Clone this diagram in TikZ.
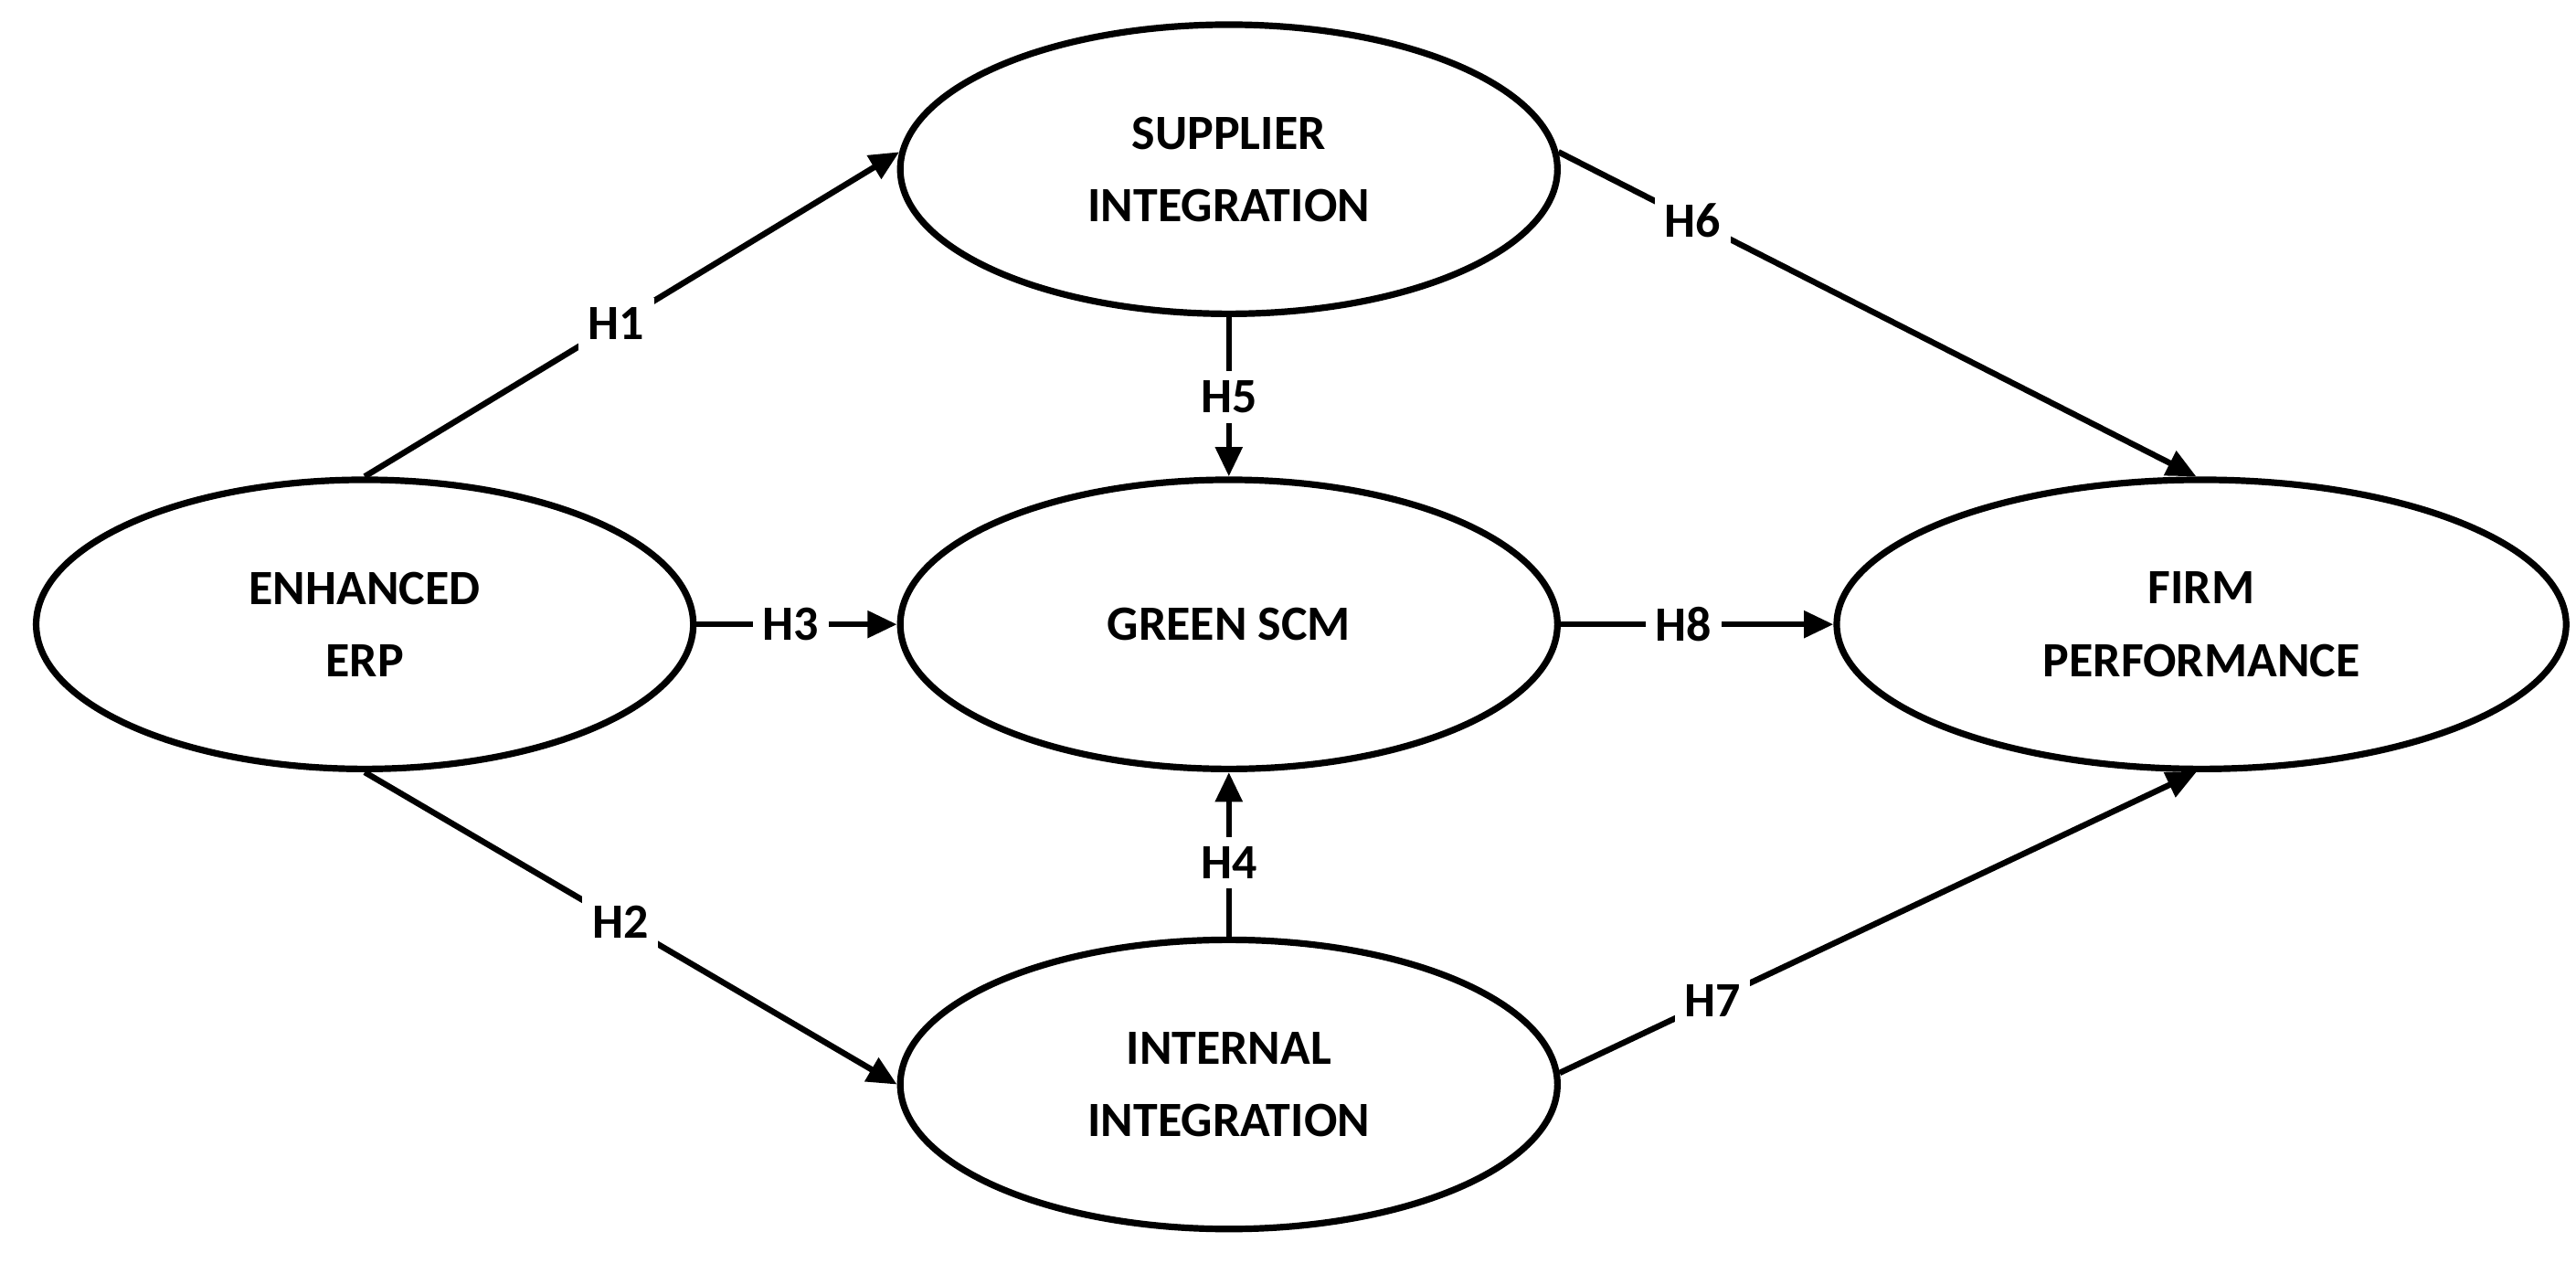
\documentclass[tikz,border=0pt]{standalone}
\usepackage{fontspec}
\setmainfont{Carlito}
\usetikzlibrary{shapes.geometric,arrows.meta}
\begin{document}
\begin{tikzpicture}[x=0.5pt,y=-0.5pt,
  ell/.style={ellipse,draw,line width=2pt,minimum width=400*0.5pt,minimum height=176*0.5pt,align=center,font=\bfseries\fontsize{15}{22}\selectfont},
  arr/.style={line width=1.8pt,-{Triangle[length=9pt,width=8pt]}},
  lab/.style={fill=white,inner sep=3pt,font=\bfseries\fontsize{15}{18}\selectfont}]
\useasboundingbox[fill=white] (0,0) rectangle (1568,775);
\node[ell] (erp) at (222,380) {ENHANCED\\ERP};
\node[ell] (sup) at (748,103) {SUPPLIER\\INTEGRATION};
\node[ell] (gscm) at (748,380) {GREEN SCM};
\node[ell] (int) at (748,660) {INTERNAL\\INTEGRATION};
\node[ell,minimum width=444*0.5pt] (firm) at (1340,380) {FIRM\\PERFORMANCE};
\draw[arr] (erp.north) -- node[lab,pos=0.47]{H1} (sup.177);
\draw[arr] (erp.south) -- node[lab,pos=0.48]{H2} (int.west);
\draw[arr] (erp.east) -- node[lab,pos=0.47]{H3} (gscm.west);
\draw[arr] (sup.south) -- node[lab,pos=0.5]{H5} (gscm.north);
\draw[arr] (int.north) -- node[lab,pos=0.45]{H4} (gscm.south);
\draw[arr] (sup.3) -- node[lab,pos=0.21]{H6} (firm.92);
\draw[arr] (int.2) -- node[lab,pos=0.24]{H7} (firm.268);
\draw[arr] (gscm.east) -- node[lab,pos=0.45]{H8} (firm.west);
\end{tikzpicture}
\end{document}
